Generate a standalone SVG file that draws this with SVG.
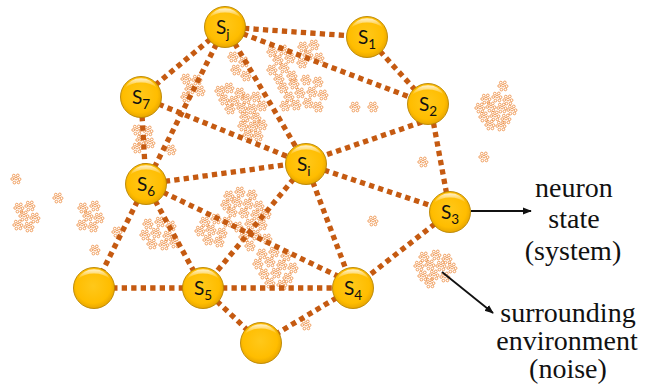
<svg xmlns="http://www.w3.org/2000/svg" xmlns:xlink="http://www.w3.org/1999/xlink" width="649" height="389" viewBox="0 0 649 389">
<style>
.edge{stroke:#c55a11;stroke-width:5.3;stroke-dasharray:5.3 4.2;fill:none}
.nc{fill:none;stroke:#ec8a3e;stroke-width:0.8}
.lbl{font-family:Lato,"Open Sans",sans-serif;font-size:19px;fill:#111}
.sub{font-size:13.5px}
.note{font-family:"Liberation Serif","Times New Roman",serif;font-size:28px;fill:#111;text-anchor:middle}
.arr{stroke:#111;stroke-width:1.8;fill:none}
</style>
<defs>
<radialGradient id="gold" cx="0.48" cy="0.45" r="0.6">
<stop offset="0" stop-color="#ffc81a"/>
<stop offset="0.7" stop-color="#ffbd00"/>
<stop offset="0.9" stop-color="#eaa800"/>
<stop offset="1" stop-color="#c48c00"/>
</radialGradient>
<linearGradient id="shine" x1="0" y1="0" x2="0" y2="1">
<stop offset="0" stop-color="#fff" stop-opacity="0.8"/>
<stop offset="1" stop-color="#fff" stop-opacity="0"/>
</linearGradient>
<g id="ball">
<circle r="20.5" fill="url(#gold)" stroke="#b98500" stroke-width="0.9"/>
<path d="M-16,-9 A18,18 0 0 1 16,-9 A20,14 0 0 0 -16,-9 Z" fill="url(#shine)"/>
</g>
<g id="b" class="nc">
<circle cx="-2.2" cy="-3.4" r="1.35"/><circle cx="1.8" cy="-3.6" r="1.35"/><circle cx="-3.8" cy="0" r="1.35"/><circle cx="0" cy="-0.4" r="1.35"/><circle cx="3.6" cy="0.2" r="1.35"/><circle cx="-1.6" cy="3.6" r="1.35"/><circle cx="2.4" cy="3.4" r="1.35"/>
</g>
<marker id="ah" viewBox="0 0 10 10" refX="9" refY="5" markerWidth="5" markerHeight="5" orient="auto" markerUnits="strokeWidth">
<path d="M0,1 L10,5 L0,9 Z" fill="#111"/>
</marker>
</defs>

<g id="noise">
<use href="#b" x="233" y="57"/><use href="#b" x="244" y="62"/><use href="#b" x="236" y="70"/><use href="#b" x="246" y="76"/>
<use href="#b" x="220" y="91"/><use href="#b" x="229" y="88"/><use href="#b" x="240" y="93"/>
<use href="#b" x="224" y="100"/><use href="#b" x="234" y="101"/><use href="#b" x="246" y="99"/><use href="#b" x="256" y="97"/>
<use href="#b" x="230" y="109"/><use href="#b" x="242" y="108"/><use href="#b" x="252" y="109"/><use href="#b" x="262" y="106"/>
<use href="#b" x="245" y="117"/><use href="#b" x="256" y="118"/>
<use href="#b" x="243" y="126"/><use href="#b" x="253" y="127"/><use href="#b" x="262" y="125"/>
<use href="#b" x="248" y="135"/><use href="#b" x="258" y="136"/>

<use href="#b" x="272" y="52"/><use href="#b" x="283" y="50"/><use href="#b" x="278" y="60"/><use href="#b" x="290" y="58"/><use href="#b" x="272" y="70"/><use href="#b" x="284" y="68"/><use href="#b" x="292" y="76"/><use href="#b" x="279" y="79"/>
<use href="#b" x="303" y="47"/><use href="#b" x="314" y="45"/><use href="#b" x="308" y="55"/><use href="#b" x="319" y="58"/><use href="#b" x="302" y="63"/>
<use href="#b" x="283" y="88"/><use href="#b" x="294" y="84"/><use href="#b" x="306" y="80"/><use href="#b" x="318" y="82"/>
<use href="#b" x="289" y="97"/><use href="#b" x="300" y="93"/><use href="#b" x="312" y="92"/><use href="#b" x="323" y="95"/>
<use href="#b" x="296" y="105"/><use href="#b" x="308" y="103"/><use href="#b" x="318" y="107"/><use href="#b" x="285" y="106"/>

<use href="#b" x="186" y="79"/><use href="#b" x="197" y="80"/><use href="#b" x="190" y="89"/><use href="#b" x="200" y="91"/><use href="#b" x="186" y="97"/>
<use href="#b" x="137" y="130"/><use href="#b" x="148" y="131"/><use href="#b" x="141" y="140"/><use href="#b" x="150" y="143"/><use href="#b" x="137" y="148"/>
<use href="#b" x="171" y="150"/>
<use href="#b" x="148" y="224"/><use href="#b" x="160" y="222"/><use href="#b" x="171" y="226"/><use href="#b" x="145" y="235"/><use href="#b" x="156" y="233"/><use href="#b" x="168" y="236"/><use href="#b" x="152" y="244"/><use href="#b" x="164" y="245"/><use href="#b" x="175" y="243"/>

<use href="#b" x="229" y="196"/><use href="#b" x="240" y="192"/><use href="#b" x="252" y="195"/>
<use href="#b" x="226" y="205"/><use href="#b" x="237" y="202"/><use href="#b" x="248" y="204"/><use href="#b" x="259" y="206"/>
<use href="#b" x="232" y="212"/><use href="#b" x="244" y="213"/><use href="#b" x="256" y="215"/><use href="#b" x="266" y="214"/>
<use href="#b" x="205" y="222"/><use href="#b" x="216" y="219"/><use href="#b" x="227" y="222"/>
<use href="#b" x="200" y="231"/><use href="#b" x="211" y="230"/><use href="#b" x="222" y="233"/>
<use href="#b" x="208" y="240"/><use href="#b" x="219" y="242"/>
<use href="#b" x="238" y="227"/><use href="#b" x="250" y="224"/><use href="#b" x="262" y="225"/>
<use href="#b" x="244" y="237"/><use href="#b" x="256" y="235"/><use href="#b" x="267" y="239"/><use href="#b" x="250" y="246"/>

<use href="#b" x="262" y="254"/><use href="#b" x="274" y="252"/><use href="#b" x="286" y="256"/>
<use href="#b" x="258" y="264"/><use href="#b" x="270" y="262"/><use href="#b" x="282" y="265"/><use href="#b" x="293" y="268"/>
<use href="#b" x="264" y="274"/><use href="#b" x="276" y="273"/><use href="#b" x="288" y="278"/><use href="#b" x="270" y="283"/><use href="#b" x="282" y="285"/>

<use href="#b" x="424" y="257"/><use href="#b" x="436" y="255"/><use href="#b" x="447" y="259"/>
<use href="#b" x="419" y="266"/><use href="#b" x="430" y="265"/><use href="#b" x="441" y="266"/><use href="#b" x="452" y="268"/>
<use href="#b" x="423" y="276"/><use href="#b" x="434" y="275"/><use href="#b" x="445" y="277"/><use href="#b" x="430" y="283"/>

<use href="#b" x="503" y="86"/>
<use href="#b" x="486" y="99"/><use href="#b" x="497" y="97"/><use href="#b" x="508" y="100"/>
<use href="#b" x="480" y="108"/><use href="#b" x="491" y="107"/><use href="#b" x="502" y="108"/><use href="#b" x="512" y="110"/>
<use href="#b" x="484" y="117"/><use href="#b" x="495" y="116"/><use href="#b" x="506" y="119"/>
<use href="#b" x="490" y="125"/><use href="#b" x="501" y="126"/>

<use href="#b" x="19" y="208"/><use href="#b" x="30" y="206"/><use href="#b" x="24" y="216"/><use href="#b" x="35" y="218"/><use href="#b" x="18" y="225"/><use href="#b" x="29" y="227"/>
<use href="#b" x="83" y="208"/><use href="#b" x="95" y="206"/><use href="#b" x="88" y="216"/><use href="#b" x="99" y="218"/><use href="#b" x="82" y="225"/><use href="#b" x="93" y="227"/>

<use href="#b" x="355" y="107"/><use href="#b" x="373" y="107"/><use href="#b" x="423" y="162"/><use href="#b" x="484" y="157"/><use href="#b" x="373" y="221"/>
<use href="#b" x="16" y="179"/><use href="#b" x="58" y="198"/><use href="#b" x="117" y="232"/><use href="#b" x="95" y="250"/><use href="#b" x="306" y="325"/>
</g>

<g id="connectors">
<line class="edge" x1="225" y1="27" x2="367" y2="37"/>
<line class="edge" x1="225" y1="27" x2="428" y2="104"/>
<line class="edge" x1="225" y1="27" x2="141" y2="97"/>
<line class="edge" x1="225" y1="27" x2="146" y2="184"/>
<line class="edge" x1="225" y1="27" x2="306" y2="164"/>
<line class="edge" x1="367" y1="37" x2="428" y2="104"/>
<line class="edge" x1="422" y1="122" x2="320" y2="157"/>
<line class="edge" x1="430" y1="104" x2="450" y2="212"/>
<line class="edge" x1="141" y1="97" x2="306" y2="164"/>
<line class="edge" x1="141" y1="97" x2="146" y2="184"/>
<line class="edge" x1="146" y1="184" x2="306" y2="162"/>
<line class="edge" x1="146" y1="184" x2="203" y2="288"/>
<line class="edge" x1="146" y1="184" x2="350" y2="282"/>
<line class="edge" x1="146" y1="184" x2="94" y2="288"/>
<line class="edge" x1="306" y1="164" x2="450" y2="212"/>
<line class="edge" x1="306" y1="164" x2="353" y2="288"/>
<line class="edge" x1="306" y1="164" x2="203" y2="288"/>
<line class="edge" x1="450" y1="212" x2="353" y2="288"/>
<line class="edge" x1="203" y1="288" x2="94" y2="288"/>
<line class="edge" x1="203" y1="288" x2="353" y2="288"/>
<line class="edge" x1="203" y1="288" x2="261" y2="343"/>
<line class="edge" x1="353" y1="288" x2="261" y2="343"/>
</g>

<g id="node-Sj"><use href="#ball" x="225" y="27"/><text class="lbl" x="216" y="34">S<tspan class="sub" dy="5">j</tspan></text></g>
<g id="node-S1"><use href="#ball" x="367" y="37"/><text class="lbl" x="358" y="44">S<tspan class="sub" dy="5">1</tspan></text></g>
<g id="node-S2"><use href="#ball" x="428" y="104"/><text class="lbl" x="419" y="111">S<tspan class="sub" dy="5">2</tspan></text></g>
<g id="node-S7"><use href="#ball" x="141" y="97"/><text class="lbl" x="132" y="104">S<tspan class="sub" dy="5">7</tspan></text></g>
<g id="node-Si"><use href="#ball" x="306" y="164"/><text class="lbl" x="297" y="171">S<tspan class="sub" dy="5">i</tspan></text></g>
<g id="node-S6"><use href="#ball" x="146" y="184"/><text class="lbl" x="137" y="191">S<tspan class="sub" dy="5">6</tspan></text></g>
<g id="node-S3"><use href="#ball" x="450" y="212"/><text class="lbl" x="441" y="219">S<tspan class="sub" dy="5">3</tspan></text></g>
<g id="node-S5"><use href="#ball" x="203" y="288"/><text class="lbl" x="194" y="295">S<tspan class="sub" dy="5">5</tspan></text></g>
<g id="node-S4"><use href="#ball" x="353" y="288"/><text class="lbl" x="344" y="295">S<tspan class="sub" dy="5">4</tspan></text></g>
<g id="node-blank1"><use href="#ball" x="94" y="288"/></g>
<g id="node-blank2"><use href="#ball" x="261" y="343"/></g>

<g id="annotations">
<line class="arr" x1="471" y1="211" x2="531" y2="211" marker-end="url(#ah)"/>
<line class="arr" x1="442" y1="272" x2="493" y2="313" marker-end="url(#ah)"/>
<text class="note" x="574" y="197">neuron</text>
<text class="note" x="574" y="228">state</text>
<text class="note" x="573" y="260">(system)</text>
<text class="note" x="568" y="322">surrounding</text>
<text class="note" x="567" y="350">environment</text>
<text class="note" x="568" y="378">(noise)</text>
</g>
</svg>
